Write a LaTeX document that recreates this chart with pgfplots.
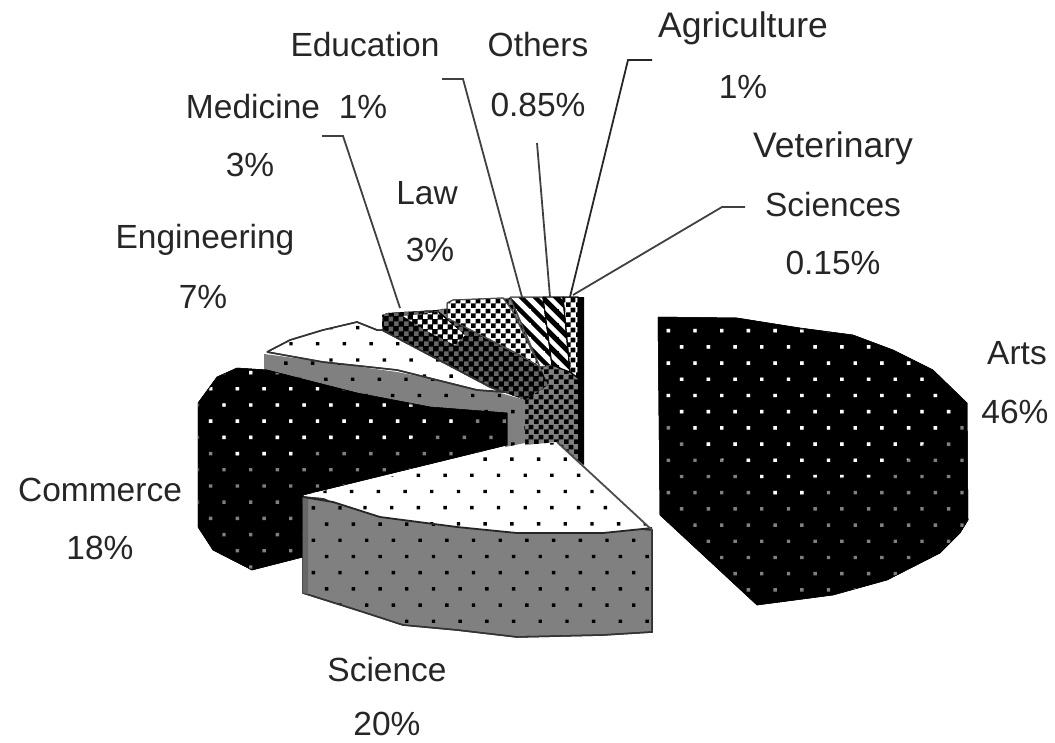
\documentclass[border=0pt]{standalone}
\usepackage{pgfplots}
\pgfplotsset{compat=1.18}
\usepackage{fontspec}
\setmainfont{Liberation Sans}
\usetikzlibrary{patterns}
\tikzset{lbl/.style={font=\fontsize{33.5}{36}\selectfont,text=black!85,inner sep=0pt,anchor=center},
  lblw/.style={lbl,font=\fontsize{35.5}{36}\selectfont}}
\newcommand\mkdots[5]{\pgfdeclarepatternformonly{#1}{\pgfqpoint{-4pt}{-4pt}}{\pgfqpoint{31pt}{37pt}}{\pgfqpoint{26.7pt}{32.4pt}}{%
  \pgfpathrectangle{\pgfqpoint{#2pt}{#3pt}}{\pgfqpoint{3.4pt}{3.4pt}}%
  \pgfpathrectangle{\pgfqpoint{#4pt}{#5pt}}{\pgfqpoint{3.4pt}{3.4pt}}%
  \pgfusepath{fill}}}
\mkdots{dotsArts}{25.8}{20.8}{12.45}{4.6}
\mkdots{dotsComm}{8.7}{11.3}{22.05}{27.5}
\mkdots{dotsSciS}{17.9}{5.6}{4.55}{21.8}
\mkdots{dotsSciT}{16.2}{5.8}{2.85}{22}
\mkdots{dotsEngT}{8.9}{23.9}{22.25}{7.7}
\mkdots{dotsEngS}{3.8}{4.6}{17.15}{20.8}
\pgfdeclarepatternformonly{check}{\pgfqpoint{0pt}{0pt}}{\pgfqpoint{9.6pt}{9.6pt}}{\pgfqpoint{9.6pt}{9.6pt}}{%
  \pgfpathrectangle{\pgfqpoint{0pt}{0pt}}{\pgfqpoint{4.8pt}{4.8pt}}%
  \pgfpathrectangle{\pgfqpoint{4.8pt}{4.8pt}}{\pgfqpoint{4.8pt}{4.8pt}}%
  \pgfusepath{fill}}
\pgfdeclarepatternformonly{hatchNW}{\pgfqpoint{-1pt}{-1pt}}{\pgfqpoint{15pt}{15pt}}{\pgfqpoint{14pt}{14pt}}{%
  \pgfsetlinewidth{4.5pt}\pgfpathmoveto{\pgfqpoint{-1pt}{15pt}}\pgfpathlineto{\pgfqpoint{15pt}{-1pt}}\pgfusepath{stroke}}
\definecolor{gmid}{gray}{0.5}
\begin{document}
\begin{tikzpicture}
\begin{axis}[hide axis,scale only axis,width=1055pt,height=742pt,xmin=0,xmax=1055,ymin=0,ymax=742,y dir=reverse,clip=false]
% keeps the whole frame in the picture
\addplot[draw=none] coordinates {(0,0)(1055,742)};
% dark side of the small slices
\addplot[fill=gmid,draw=none,postaction={pattern=check,pattern color=black}] coordinates {(382,330)(382,315)(388,313)(437,310)(500,298)(583,297)(583,465)(557,442)(525,445)(525,400)(490,387)(382,330)};
\addplot[fill=black,draw=none,postaction={pattern=check,pattern color=black!60}] coordinates {(382,330)(382,315)(388,313)(437,310)(447,318)(540,367)(548,385)(525,400)(490,387)(382,330)};
% Medicine highlights
\addplot[fill=black,draw=none,postaction={pattern=check,pattern color=white}] coordinates {(403,316)(437,312)(465,335)(455,345)(425,330)(403,316)};
% Law
\addplot[fill=white,draw=black!70,line width=1pt,postaction={pattern=check,pattern color=black}] coordinates {(447,303)(453,300)(503,298)(512,310)(540,367)(520,355)(447,318)(447,303)};
% Education
\addplot[fill=white,draw=black!70,line width=1pt,postaction={pattern=hatchNW,pattern color=black}] coordinates {(510,297)(543,297)(552,365)(540,367)(510,297)};
% Others
\addplot[fill=black,draw=black,line width=1pt,postaction={pattern=hatchNW,pattern color=white}] coordinates {(543,297)(563,297)(570,372)(552,365)(543,297)};
% Agriculture
\addplot[fill=white,draw=black,line width=1pt,postaction={pattern=check,pattern color=black}] coordinates {(563,297)(578,297)(578,378)(570,372)(563,297)};
% Veterinary Sciences
\addplot[fill=black,draw=none] coordinates {(578,297)(584,297)(584,465)(578,460)(578,297)};
% Engineering side and top
\addplot[fill=gmid,draw=none,postaction={pattern=dotsEngS,pattern color=black}] coordinates {(264,354)(325,362)(397,372)(490,390)(525,400)(525,443)(505,447)(505,413)(430,407)(357,393)(267,372)(264,372)(264,354)};
\addplot[fill=white,draw=black!80,line width=1.5pt,postaction={pattern=dotsEngT,pattern color=black}] coordinates {(267,352)(290,340)(323,330)(357,322)(377,330)(382,330)(490,387)(503,392)(477,390)(397,370)(323,362)(267,352)};
% Commerce
\addplot[fill=black,draw=black,line width=.5pt,postaction={pattern=dotsComm,pattern color=gmid}] coordinates {(198,403)(217,377)(237,368)(267,370)(357,393)(430,407)(507,413)(507,445)(303,495)(303,557)(252,570)(213,550)(198,527)(198,403)};
\addplot[draw=none,postaction={pattern=dotsComm,pattern color=white}] coordinates {(200,403)(217,379)(237,370)(267,372)(357,395)(430,409)(470,414)(470,425)(405,440)(320,448)(280,465)(245,465)(220,440)(200,425)(200,403)};
% Science side and top
\addplot[fill=gmid,draw=black!80,line width=1.5pt,postaction={pattern=dotsSciS,pattern color=black}] coordinates {(303,497)(652,530)(652,632)(603,635)(517,637)(457,630)(403,625)(363,612)(303,593)(303,497)};
\addplot[fill=black!60,draw=none] coordinates {(303,497)(308,498)(308,594)(303,593)(303,497)};
\addplot[fill=white,draw=none,postaction={pattern=dotsSciT,pattern color=black}] coordinates {(313,493)(390,477)(473,458)(557,442)(650,528)(603,533)(517,533)(457,527)(380,517)(333,502)(313,493)};
\addplot[draw=black!85,line width=1.8pt] coordinates {(303,497)(333,502)(380,517)(457,527)(517,533)(603,533)(652,528)};
\addplot[draw=black!70,line width=1.8pt] coordinates {(557,442)(652,530)};
% Arts
\addplot[fill=black,draw=black,line width=.5pt,postaction={pattern=dotsArts,pattern color=gmid}] coordinates {(658,317)(737,318)(800,328)(853,335)(893,350)(933,370)(967,403)(968,520)(960,533)(940,553)(887,580)(833,595)(757,605)(660,515)(658,317)};
\addplot[draw=none,postaction={pattern=dotsArts,pattern color=white}] coordinates {(660,319)(737,320)(800,330)(853,337)(893,352)(933,372)(965,404)(965,410)(940,427)(907,460)(870,477)(813,477)(803,497)(773,497)(737,473)(720,457)(660,413)(660,319)};
% leader lines
\addplot[draw=black!75,line width=1.8pt] coordinates {(322,136)(343,136)(400,308)};
\addplot[draw=black!75,line width=1.8pt] coordinates {(442,79)(463,79)(522,297)};
\addplot[draw=black!75,line width=1.8pt] coordinates {(537,143)(550,297)};
\addplot[draw=black!85,line width=1.8pt] coordinates {(652,60)(628,60)(570,297)};
\addplot[draw=black!75,line width=1.8pt] coordinates {(745,207)(722,207)(573,295)};
% labels
\node[lbl] at (axis cs:365,45) {Education};
\node[lbl] at (axis cs:538,45) {Others};
\node[lbl] at (axis cs:538,105) {0.85\%};
\node[lblw] at (axis cs:743,28) {Agriculture};
\node[lbl] at (axis cs:743,87) {1\%};
\node[lblw] at (axis cs:833,148) {Veterinary};
\node[lbl] at (axis cs:833,205) {Sciences};
\node[lbl] at (axis cs:833,263) {0.15\%};
\node[lbl] at (axis cs:253,107) {Medicine};
\node[lbl] at (axis cs:363,107) {1\%};
\node[lbl] at (axis cs:250,165) {3\%};
\node[lbl] at (axis cs:427,193) {Law};
\node[lbl] at (axis cs:430,250) {3\%};
\node[lbl] at (axis cs:205,240) {Engineering};
\node[lbl] at (axis cs:203,297) {7\%};
\node[lbl] at (axis cs:100,490) {Commerce};
\node[lbl] at (axis cs:100,548) {18\%};
\node[lbl] at (axis cs:387,670) {Science};
\node[lbl] at (axis cs:387,724) {20\%};
\node[lbl] at (axis cs:1017,353) {Arts};
\node[lbl] at (axis cs:1015,412) {46\%};
\end{axis}
\end{tikzpicture}
\end{document}
